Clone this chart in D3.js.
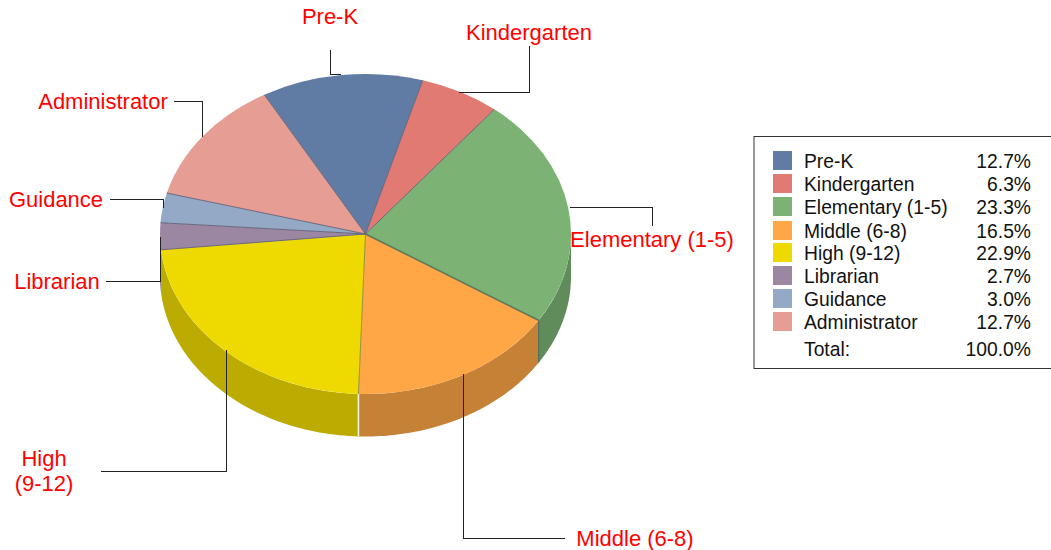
<!DOCTYPE html>
<html><head><meta charset="utf-8">
<script src="https://cdn.jsdelivr.net/npm/d3@7"></script>
<style>html,body{margin:0;padding:0;background:#fff}svg{display:block}text{font-family:"Liberation Sans",Arial,sans-serif}</style>
</head><body><svg id="c" width="1051" height="550"></svg>
<script>
const categories=["Pre-K","Kindergarten","Elementary (1-5)","Middle (6-8)","High (9-12)","Librarian","Guidance","Administrator"];
const values=[12.7,6.3,23.3,16.5,22.9,2.7,3.0,12.7];
const percentLabels=["12.7%","6.3%","23.3%","16.5%","22.9%","2.7%","3.0%","12.7%"];
const topColors=["#617ca4","#e07a72","#7cb274","#ffa647","#eeda00","#9c87a3","#93a9c6","#e69d94"];
const sideColors=["#4d6383","#b3625b","#5f8c5a","#c58136","#bcab00","#7c6c82","#75879e","#b87e76"];
const totalLabel=["Total:","100.0%"];
const labelLines=[["Pre-K"],["Kindergarten"],["Elementary (1-5)"],["Middle (6-8)"],["High","(9-12)"],["Librarian"],["Guidance"],["Administrator"]];
const labelAnchors=[[330,24],[529,40],[652,247],[635,546],[44,466],[57,289],[56,207],[103,109]];
const leaders=[
 [[330,50],[330,74],[341,74]],
 [[529,46],[529,92],[459,92]],
 [[570,207],[652,207],[652,226]],
 [[463,374],[463,538],[565,538]],
 [[226,350],[226,471],[101,471]],
 [[160,237],[160,281],[106,281]],
 [[163,208],[163,199],[110,199]],
 [[202,137],[202,101],[174,101]]
];
const legendRows=[161,184,207,231,253,276,299,322];
const svg=d3.select("#c");
const cx=365.5,cy=234,rx=205.5,ry=160,depth=42.5;
const px=d3.scaleLinear().domain([-1,1]).range([cx-rx,cx+rx]);
const py=d3.scaleLinear().domain([-1,1]).range([cy-ry,cy+ry]);
const rad=d=>d*Math.PI/180;
const arcs=d3.pie().value(d=>d).sort(null).startAngle(rad(-29.5)).endAngle(rad(330.5))(values);

const line=d3.line();
const front0=rad(90),front1=rad(270);
const sideRanges=[];
arcs.forEach((a,i)=>{
  for(const shift of [0,2*Math.PI]){
    const s=Math.max(a.startAngle+shift,front0),e=Math.min(a.endAngle+shift,front1);
    if(e>s) sideRanges.push({i,s,e});
  }
});
const steps=60;
const edge=(t,dy)=>[px(Math.sin(t)),py(-Math.cos(t))+dy];
const gSide=svg.append("g");
sideRanges.forEach(r=>{
  const ts=d3.range(steps+1).map(k=>r.s+(r.e-r.s)*k/steps);
  const pts=ts.map(t=>edge(t,0)).concat(ts.slice().reverse().map(t=>edge(t,depth)));
  gSide.append("path").attr("d",line(pts)+"Z").attr("fill",sideColors[r.i]);
});
const seam=arcs[3].endAngle;
gSide.append("path").attr("d",line([edge(seam,0),edge(seam,depth)])).attr("stroke","#f6f3e6").attr("stroke-width",1.6).attr("fill","none");
const seam2=arcs[2].endAngle;
gSide.append("path").attr("d",line([edge(seam2,0),edge(seam2,depth)])).attr("stroke","#55705a").attr("stroke-width",1.2).attr("fill","none");

const unitArc=d3.arc().innerRadius(0).outerRadius(rx);
const gTop=svg.append("g").attr("transform",`translate(${cx},${cy}) scale(1,${ry/rx})`);
gTop.selectAll("path").data(arcs).join("path").attr("d",unitArc)
  .attr("fill",(d,i)=>topColors[i]);
const gSpokes=svg.append("g");
arcs.forEach((a,i)=>{
  gSpokes.append("path").attr("d",line([[cx,cy],edge(a.startAngle,0)]))
    .attr("stroke",i===3?"#55705a":i===4?"#8d8a40":"#5f6076").attr("stroke-width",i===3?1.6:1).attr("fill","none").attr("opacity",.9);
});

svg.append("g").attr("shape-rendering","crispEdges").selectAll("path").data(leaders).join("path")
  .attr("d",d=>line(d)).attr("fill","none").attr("stroke","#222").attr("stroke-width",1);

const gLab=svg.append("g");
labelLines.forEach((ls,i)=>{
  const t=gLab.append("text").attr("text-anchor","middle").attr("fill","#ff0000").attr("font-size",22)
    .attr("x",labelAnchors[i][0]).attr("y",labelAnchors[i][1]);
  ls.forEach((l,k)=>t.append("tspan").attr("x",labelAnchors[i][0]).attr("dy",k?25:0).text(l));
});

const gLeg=svg.append("g");
gLeg.append("rect").attr("x",754).attr("y",136.5).attr("width",310).attr("height",232).attr("fill","#fff").attr("stroke","#333").attr("stroke-width",1);
const rowY=d3.scaleOrdinal().domain(categories).range(legendRows);
const fs=19.3;
categories.forEach((c,i)=>{
  const y=rowY(c);
  gLeg.append("rect").attr("x",773).attr("y",y-10).attr("width",19).attr("height",19).attr("fill",topColors[i]);
  gLeg.append("text").attr("x",804).attr("y",y+7).attr("font-size",fs).attr("fill","#111").text(c);
  gLeg.append("text").attr("x",1031).attr("y",y+7).attr("text-anchor","end").attr("font-size",fs).attr("fill","#111").text(percentLabels[i]);
});
gLeg.append("text").attr("x",804).attr("y",356).attr("font-size",fs).attr("fill","#111").text(totalLabel[0]);
gLeg.append("text").attr("x",1031).attr("y",356).attr("text-anchor","end").attr("font-size",fs).attr("fill","#111").text(totalLabel[1]);
</script></body></html>
